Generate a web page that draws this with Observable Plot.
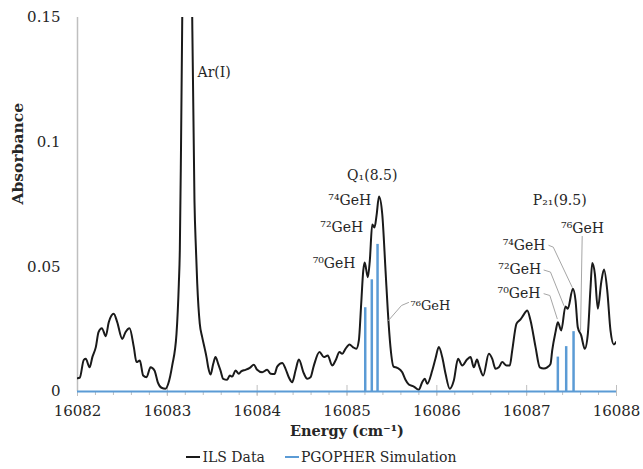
<!DOCTYPE html>
<html><head><meta charset="utf-8">
<script src="https://cdn.jsdelivr.net/npm/d3@7"></script>
<script src="https://cdn.jsdelivr.net/npm/@observablehq/plot@0.6"></script>
<style>
body{margin:0;background:#fff;}
#legend{display:flex;justify-content:center;gap:20px;font-family:"DejaVu Serif",serif;font-size:14px;color:#262626;height:24px;align-items:center;width:643px;}
#legend .item{display:flex;align-items:center;}
#legend .sw{display:inline-block;width:14px;height:2px;margin-right:2px;}
</style></head>
<body><div id="chart"></div><div id="legend"></div>
<script>
// ILS data (energy in cm-1, absorbance)
const energy = [16082.000,16082.026,16082.070,16082.092,16082.134,16082.167,16082.204,16082.234,16082.271,16082.315,
16082.348,16082.404,16082.442,16082.498,16082.534,16082.579,16082.627,16082.657,16082.694,16082.731,
16082.768,16082.813,16082.857,16082.894,16082.935,16082.980,16083.010,16083.054,16083.102,16083.128,
16083.139,16083.152,16083.166,16083.221,16083.277,16083.302,16083.319,16083.333,16083.361,16083.388,
16083.417,16083.436,16083.455,16083.481,16083.511,16083.536,16083.566,16083.592,16083.622,16083.666,
16083.695,16083.722,16083.759,16083.796,16083.822,16083.870,16083.918,16083.963,16084.000,16084.056,
16084.112,16084.149,16084.193,16084.223,16084.279,16084.316,16084.352,16084.390,16084.427,16084.464,
16084.519,16084.557,16084.594,16084.631,16084.694,16084.742,16084.786,16084.835,16084.872,16084.917,
16084.947,16084.983,16085.028,16085.065,16085.103,16085.132,16085.158,16085.181,16085.197,16085.232,
16085.254,16085.281,16085.306,16085.329,16085.356,16085.392,16085.429,16085.454,16085.484,16085.518,
16085.559,16085.615,16085.651,16085.688,16085.744,16085.799,16085.837,16085.866,16085.893,16085.949,
16085.985,16086.022,16086.060,16086.097,16086.144,16086.189,16086.236,16086.283,16086.336,16086.375,
16086.412,16086.447,16086.470,16086.516,16086.579,16086.617,16086.653,16086.690,16086.728,16086.776,
16086.812,16086.839,16086.887,16086.932,16086.962,16087.006,16087.043,16087.099,16087.146,16087.191,
16087.229,16087.266,16087.284,16087.321,16087.347,16087.385,16087.432,16087.458,16087.514,16087.544,
16087.569,16087.607,16087.647,16087.681,16087.711,16087.730,16087.759,16087.792,16087.830,16087.861,
16087.897,16087.933,16087.970,16088.000];
const absorbance = [0.0053,0.0056,0.0127,0.0131,0.0097,0.0140,0.0178,0.0238,0.0254,0.0222,
0.0278,0.0312,0.0278,0.0211,0.0238,0.0254,0.0178,0.0118,0.0124,0.0064,
0.0057,0.0097,0.0084,0.0037,0.0015,0.0011,0.0031,0.0104,0.0231,0.0432,
0.0566,0.0967,0.1500,0.4000,0.1500,0.0766,0.0566,0.0432,0.0272,0.0218,
0.0171,0.0138,0.0097,0.0068,0.0111,0.0138,0.0111,0.0084,0.0051,0.0047,
0.0064,0.0060,0.0084,0.0071,0.0081,0.0087,0.0095,0.0107,0.0087,0.0077,
0.0087,0.0071,0.0070,0.0100,0.0114,0.0091,0.0057,0.0037,0.0084,0.0128,
0.0073,0.0051,0.0057,0.0104,0.0158,0.0138,0.0144,0.0104,0.0124,0.0158,
0.0151,0.0171,0.0189,0.0178,0.0171,0.0205,0.0352,0.0485,0.0517,0.0458,
0.0525,0.0670,0.0658,0.0706,0.0782,0.0713,0.0485,0.0325,0.0178,0.0100,
0.0095,0.0077,0.0047,0.0028,0.0020,0.0007,0.0037,0.0051,0.0031,0.0084,
0.0132,0.0178,0.0138,0.0071,0.0011,0.0044,0.0131,0.0104,0.0128,0.0138,
0.0097,0.0128,0.0104,0.0064,0.0151,0.0131,0.0091,0.0097,0.0118,0.0104,
0.0104,0.0164,0.0272,0.0289,0.0305,0.0325,0.0285,0.0178,0.0097,0.0092,
0.0097,0.0111,0.0164,0.0238,0.0278,0.0245,0.0341,0.0332,0.0412,0.0365,
0.0258,0.0225,0.0171,0.0231,0.0418,0.0515,0.0472,0.0332,0.0438,0.0489,
0.0405,0.0245,0.0189,0.0200];

// PGOPHER simulation sticks
const simEnergy = [16085.203,16085.276,16085.340,16087.347,16087.440,16087.522];
const simIntensity = [0.0336,0.0448,0.0590,0.0138,0.0180,0.0240];

// Axes
const xTicks = [16082,16083,16084,16085,16086,16087,16088];
const xTickLabels = ["16082","16083","16084","16085","16086","16087","16088"];
const yTicks = [0,0.05,0.1,0.15];
const yTickLabels = ["0","0.05","0.1","0.15"];
const xTitle = "Energy (cm\u207B\u00B9)";
const yTitle = "Absorbance";
const seriesNames = ["ILS Data","PGOPHER Simulation"];

// Annotations (label, energy, absorbance)
const endLabels = ["\u2077\u2074GeH","\u2077\u00B2GeH","\u2077\u2070GeH","\u2077\u2074GeH","\u2077\u00B2GeH","\u2077\u2070GeH"];
const endLabelX = [16085.270,16085.180,16085.095,16087.210,16087.162,16087.154];
const endLabelY = [0.0766,0.0659,0.0512,0.0586,0.0488,0.0392];
const midLabels = ["Q\u2081(8.5)","P\u2082\u2081(9.5)","\u2077\u2076GeH"];
const midLabelX = [16085.281,16087.368,16087.622];
const midLabelY = [0.0866,0.0766,0.0653];
const startLabels = ["Ar(I)"];
const startLabelX = [16083.336];
const startLabelY = [0.128];
const smallLabels = ["\u2077\u2076GeH"];
const smallLabelX = [16085.707];
const smallLabelY = [0.0345];

// Leader lines
const leaderId = [0,0,0, 1,1,1, 2,2,2, 3,3,3, 4,4];
const leaderX = [16085.685,16085.607,16085.462, 16087.247,16087.296,16087.507, 16087.193,16087.265,16087.414, 16087.193,16087.258,16087.340, 16087.618,16087.600];
const leaderY = [0.0357,0.0345,0.0285, 0.0586,0.0579,0.0418, 0.0487,0.0479,0.0345, 0.0392,0.0385,0.0292, 0.0622,0.0245];

const ils = energy.map((e,i)=>({e, a:absorbance[i]}));
const sim = simEnergy.map((e,i)=>({e, a:simIntensity[i]}));
const leaders = leaderId.map((id,i)=>({id, x:leaderX[i], y:leaderY[i]}));
const mk = (L,X,Y)=>L.map((t,i)=>({t, x:X[i], y:Y[i]}));

const W=643, H=445, mL=77, mR=27, mT=17, mB=54;
const plotH = H-mT-mB;
const minorTicks = d3.range(0,31).map(i=>Math.round((16082+i*0.2)*10)/10);
const gray = "#bfbfbf", blue = "#5b9bd5", ink = "#262626";

const chart = Plot.plot({
  width: W, height: H,
  marginLeft: mL, marginRight: mR, marginTop: mT, marginBottom: mB,
  style: {fontFamily: "'DejaVu Serif', serif", fontSize: "14px", color: ink, background: "#fff"},
  x: {domain: [16082, 16088]},
  y: {domain: [0, 0.15]},
  marks: [
    Plot.ruleX([16082], {stroke: gray, strokeWidth: 1.5}),
    Plot.axisX({ticks: minorTicks, tickSize: 4, tickFormat: () => "", stroke: gray, label: null}),
    Plot.axisX({ticks: xTicks, tickSize: 5, tickPadding: 9, tickFormat: d => xTickLabels[xTicks.indexOf(d)],
      fontSize: 15, stroke: gray, fill: ink, label: null}),
    Plot.tickX(xTicks, {x: d => d, insetTop: plotH - 6, stroke: gray}),
    Plot.axisY({ticks: yTicks, tickSize: 0, tickPadding: 17, tickFormat: d => yTickLabels[yTicks.indexOf(d)],
      fontSize: 15, fill: ink, label: null}),
    Plot.text([yTitle], {frameAnchor: "left", dx: -59, rotate: -90, fontWeight: "bold", fontSize: 15.5, fill: ink}),
    Plot.text([xTitle], {frameAnchor: "bottom", dy: 44, fontWeight: "bold", fontSize: 14.5, fill: ink}),
    Plot.line(ils, {x: "e", y: "a", stroke: "#1a1a1a", strokeWidth: 2, curve: "monotone-x", clip: true}),
    Plot.ruleY([0], {stroke: blue, strokeWidth: 2}),
    Plot.ruleX(sim, {x: "e", y1: 0, y2: "a", stroke: blue, strokeWidth: 2.5}),
    Plot.line(leaders, {x: "x", y: "y", z: "id", stroke: "#a6a6a6", strokeWidth: 1}),
    Plot.text(mk(endLabels,endLabelX,endLabelY), {x: "x", y: "y", text: "t", textAnchor: "end", fontSize: 14, fill: ink}),
    Plot.text(mk(midLabels,midLabelX,midLabelY), {x: "x", y: "y", text: "t", textAnchor: "middle", fontSize: 14, fill: ink}),
    Plot.text(mk(startLabels,startLabelX,startLabelY), {x: "x", y: "y", text: "t", textAnchor: "start", fontSize: 14, fill: ink}),
    Plot.text(mk(smallLabels,smallLabelX,smallLabelY), {x: "x", y: "y", text: "t", textAnchor: "start", fontSize: 13, fill: ink})
  ]
});
document.getElementById("chart").appendChild(chart);

const legend = document.getElementById("legend");
const colors = ["#1a1a1a", blue];
seriesNames.forEach((n,i)=>{
  const it = document.createElement("div"); it.className = "item";
  const sw = document.createElement("span"); sw.className = "sw"; sw.style.background = colors[i];
  const tx = document.createElement("span"); tx.textContent = n;
  it.appendChild(sw); it.appendChild(tx); legend.appendChild(it);
});
</script>
</body></html>
